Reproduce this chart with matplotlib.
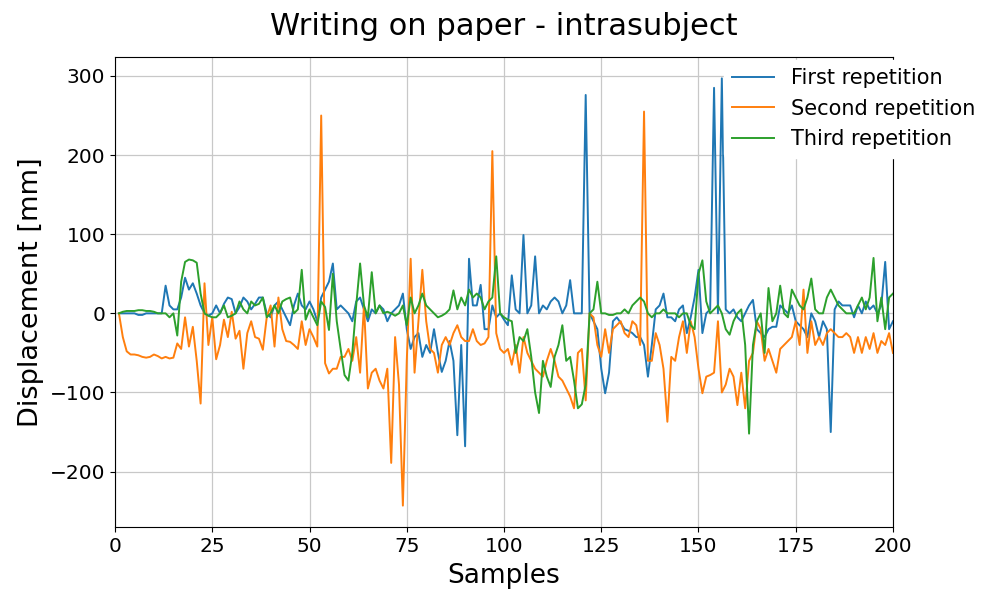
import numpy as np
import matplotlib
matplotlib.use("Agg")
import matplotlib.pyplot as plt

# Displacement per sample
samples = np.arange(1, 201)

first_rep = [
    0, 0, 0, 0, 0, -2, -2, 0, 0, 0,
    0, 0, 35, 10, 5, 5, 20, 45, 30, 38,
    25, 10, 0, -3, 0, 10, 0, 12, 20, 18,
    0, 8, 20, 15, 5, 12, 20, 20, 0, -5,
    10, 15, 5, -5, -15, 10, 25, 10, 5, 15,
    5, -10, 20, 30, 40, 63, 5, 10, 5, 0,
    -10, 15, 20, 5, -10, 5, 0, 10, 5, -10,
    0, 5, 10, 25, -20, -45, -30, -25, -55, -40,
    -50, -20, -50, -74, -60, -35, -60, -154, -40, -168,
    69, 10, 10, 36, -20, -20, 10, -5, 0, -8,
    -15, 48, 5, 0, 99, 0, 10, 72, 0, 10,
    5, 15, 20, 15, 0, 10, 42, 0, 0, 0,
    276, 0, -10, -20, -70, -101, -75, -10, -5, -12,
    -20, -22, -25, -30, -30, -40, -80, -40, 5, 10,
    25, -5, -5, -10, 5, 10, -25, -5, 20, 55,
    -25, 0, 5, 285, 0, 297, 5, 0, 5, -5,
    -10, 0, 10, 17, -20, -25, -30, -20, -17, -17,
    10, 5, 0, 10, -10, -15, -20, -30, 0, -10,
    -30, -10, -20, -150, 5, 15, 10, 10, 10, -5,
    10, 0, 15, 5, 10, 0, 10, 65, -20, -10,
]

second_rep = [
    0, -30, -48, -52, -52, -53, -55, -56, -55, -52,
    -54, -57, -55, -57, -56, -38, -45, -5, -42, -17,
    -60, -114, 38, -40, -5, -58, -40, -8, -30, 2,
    -32, -22, -70, -25, -10, -30, -32, -46, -5, 10,
    -42, 20, -20, -35, -36, -40, -45, -10, -40, -20,
    -30, -42, 250, -63, -76, -70, -70, -55, -55, -45,
    -60, -30, -75, 10, -95, -75, -70, -85, -95, -70,
    -189, -30, -90, -243, -60, 69, -75, -10, 55, -10,
    -45, -50, -75, -40, -30, -40, -25, -15, -30, -35,
    -35, -20, -35, -40, -38, -30, 205, -25, -45, -50,
    -45, -65, -40, -75, -30, -50, -60, -70, -75, -80,
    -60, -45, -60, -80, -85, -95, -105, -120, -50, -45,
    -110, 0, -5, -40, -55, -20, -50, -20, -15, -10,
    -25, -30, -10, -15, -40, 255, -60, -60, -25, -40,
    -70, -137, -55, -60, -30, -10, -50, -10, -30, -70,
    -101, -80, -78, -75, -10, -100, -90, -70, -80, -116,
    -75, -120, -60, -50, -10, -20, -60, -45, -60, -75,
    -45, -40, -35, -30, -10, -40, 30, -50, -10, -40,
    -30, -40, -25, -20, -25, -30, -30, -25, -30, -50,
    -30, -50, -30, -45, -25, -50, -35, -40, -25, -50,
]

third_rep = [
    0, 2, 3, 3, 3, 4, 4, 3, 3, 2,
    0, 0, 0, -5, 0, -28, 40, 65, 68, 67,
    64, 25, 0, -3, -5, -5, 0, 10, -5, -3,
    0, 15, 5, 0, 15, 10, 12, 20, -5, 0,
    10, 0, 15, 18, 20, 0, 5, 55, -8, 5,
    -5, -15, 15, 8, -21, 50, -10, -45, -78, -85,
    -50, 10, 63, 10, -5, 52, 0, 10, 0, 2,
    0, -3, 0, 10, -15, 20, 0, 10, 25, 10,
    5, 0, -5, -3, 0, 5, 29, 5, 20, 10,
    30, 20, 25, 20, 5, 15, 20, 72, 0, -5,
    -8, -10, -50, -30, -35, -20, -55, -100, -126, -60,
    -80, -93, -55, -40, -15, -60, -55, -85, -120, -115,
    -90, 0, 5, 40, 0, 0, -2, -2, 0, 0,
    5, 0, 10, 15, 20, 15, 0, -5, 0, 0,
    5, 0, 0, 0, -5, 0, 0, -15, -20, 50,
    67, 15, 0, 5, 10, 0, -20, -27, -10, 0,
    5, -40, -152, -40, -10, 0, -50, 32, -10, 0,
    35, 0, -5, 30, 20, 10, 5, 20, 44, 5,
    0, 0, 20, 30, 20, 10, 5, 0, 0, 0,
    10, 20, 5, 20, 70, -10, 20, -20, 20, 25,
]

labels = ["First repetition", "Second repetition", "Third repetition"]

fig = plt.figure(figsize=(9.9, 5.91), dpi=100)
ax = fig.add_axes([0.1162, 0.1083, 0.7858, 0.7953])

ax.plot(samples, first_rep, color="#1f77b4", lw=1.4, label=labels[0])
ax.plot(samples, second_rep, color="#ff7f0e", lw=1.4, label=labels[1])
ax.plot(samples, third_rep, color="#2ca02c", lw=1.4, label=labels[2])

ax.set_xlim(0, 200)
ax.set_xticks([0, 25, 50, 75, 100, 125, 150, 175, 200])
ax.set_yticks([-200, -100, 0, 100, 200, 300])
ax.tick_params(labelsize=14.5)
ax.grid(True, color="#c8c8c8", lw=0.9)

ax.set_title("Writing on paper - intrasubject", fontsize=22, pad=16)
ax.set_xlabel("Samples", fontsize=19, labelpad=5)
ax.set_ylabel("Displacement [mm]", fontsize=19.5)

# legend sits over the top right corner, white box without an edge
leg = ax.legend(loc="upper left", bbox_to_anchor=(724 / 990, 1 - 60 / 591),
                bbox_transform=fig.transFigure, fontsize=15,
                frameon=True, framealpha=1, facecolor="white",
                edgecolor="white", borderaxespad=0)

plt.savefig("out.png", dpi=100)
